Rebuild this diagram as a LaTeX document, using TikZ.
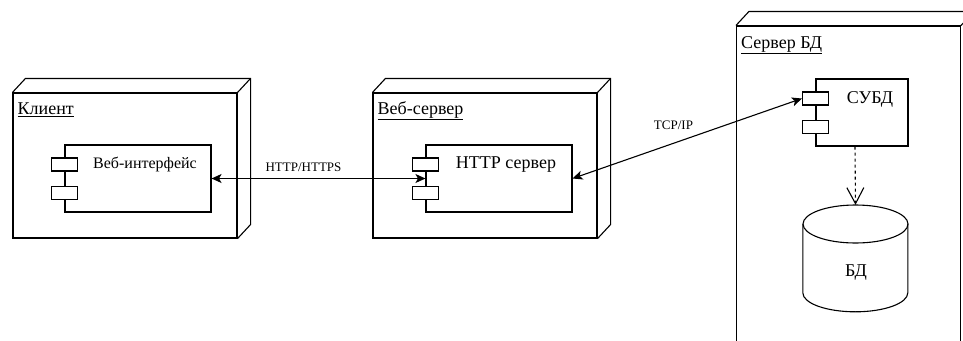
\documentclass[tikz,border=0pt]{standalone}
\usepackage{fontspec}
\setmainfont{Liberation Serif}
\usetikzlibrary{positioning,arrows.meta}

\tikzset{
    line/.style={line width=1.1pt},
    hostbox/.style={line, draw, rectangle, minimum width=224pt, inner sep=0pt},
    hostlabel/.style={anchor=base west, inner sep=0pt, font=\fontsize{18}{20}\selectfont},
    compbox/.style={line, draw, rectangle, minimum height=67pt, inner sep=0pt},
    port/.style={line, draw, fill=white, rectangle, minimum width=26pt, minimum height=13pt, inner sep=0pt},
    link/.style={line, {Stealth[length=10pt,width=9pt,inset=2.5pt]}-{Stealth[length=10pt,width=9pt,inset=2.5pt]}},
    linklabel/.style={font=\fontsize{13}{15}\selectfont, inner sep=0pt}
}

\begin{document}
\begin{tikzpicture}[x=1pt, y=-1pt]
            \clip (0,0) rectangle (963,340);

            % hosts
            \node[hostbox, minimum height=145pt] (client) at (125,165.5) {};
            \node[hostbox, minimum height=145pt] (websrv) at (485,165.5) {};
            \node[hostbox, minimum height=334pt] (dbsrv) at (848.5,193) {};
            \foreach \h in {client, websrv, dbsrv} {
                \draw[line] (\h.north west) -- ++(13pt,14pt) -| ([shift={(13pt,14pt)}]\h.south east) -- (\h.south east);
                \draw[line] (\h.north east) -- ++(13pt,14pt);
            }
            \node[hostlabel] (clientlbl) at ([shift={(5pt,-22pt)}]client.north west) {\underline{Клиент}};
            \node[hostlabel] (websrvlbl) at ([shift={(5pt,-22pt)}]websrv.north west) {\underline{Веб-сервер}};
            \node[hostlabel] (dbsrvlbl) at ([shift={(5pt,-23pt)}]dbsrv.north west) {\underline{Сервер БД}};

            % components
            \node[compbox, minimum width=146pt] (webui) at (138,178.5) {};
            \node[compbox, minimum width=146pt] (httpd) at (499,178.5) {};
            \node[compbox, minimum width=92pt] (dbms) at (862,112.5) {};
            \foreach \c in {webui, httpd, dbms} {
                \node[port, below=13pt of \c.north west] (\c p1) {};
                \node[port, below=14pt of \c p1] (\c p2) {};
            }
            \node[font=\fontsize{16}{18}\selectfont] (webuitxt) at ([shift={(7pt,-20pt)}]webui.north) {Веб-интерфейс};
            \node[font=\fontsize{18}{20}\selectfont] (httpdtxt) at ([shift={(7pt,-20pt)}]httpd.north) {HTTP сервер};
            \node[font=\fontsize{18}{20}\selectfont] (dbmstxt) at ([shift={(8pt,-21pt)}]dbms.north) {СУБД};

            % database
            \node[minimum width=105pt, minimum height=107pt, inner sep=0pt] (db) at (855.5,258.5) {};
            \draw[line] (db.center) ++(0,-34.5) ellipse[x radius=52.5pt, y radius=19pt];
            \draw[line] (db.north west) ++(0,19) -- ++(0,69) arc[start angle=180, end angle=360, x radius=52.5pt, y radius=19pt] -- ++(0,-69);
            \node[font=\fontsize{18}{20}\selectfont] (dbtxt) at (856,273) {БД};

            % connectors
            \draw[link] (webui.east) -- (httpd.west) node[linklabel, pos=0.43, above=6pt] (httplbl) {HTTP/HTTPS};
            \draw[link] (httpd.east) -- (dbmsp1.west) node[linklabel, pos=0.44, above=13pt] (tcplbl) {TCP/IP};
            \draw[line, dashed, -{Straight Barb[length=16pt,width=17pt]}] ([xshift=-7pt]dbms.south) -- (db.north);
        \end{tikzpicture}
\end{document}
